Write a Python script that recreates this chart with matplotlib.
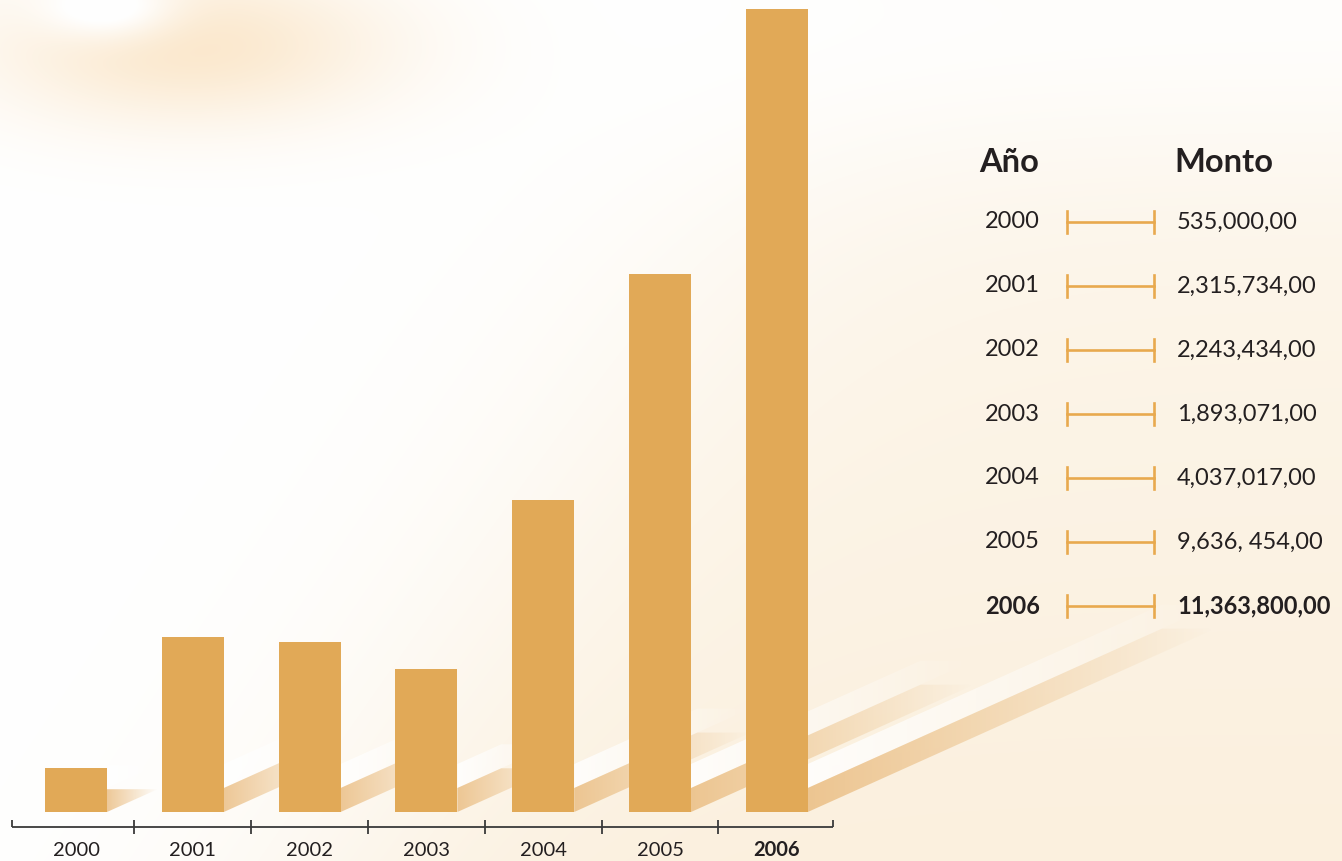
import numpy as np
import matplotlib
matplotlib.use("Agg")
import matplotlib.pyplot as plt
from matplotlib.patches import Polygon
from matplotlib.lines import Line2D

# bar heights as drawn (millions)
years = ["2000", "2001", "2002", "2003", "2004", "2005", "2006"]
heights = [0.62, 2.48, 2.40, 2.02, 4.41, 7.61, 11.36]

# table on the right
table_years = ["2000", "2001", "2002", "2003", "2004", "2005", "2006"]
table_amounts = ["535,000,00", "2,315,734,00", "2,243,434,00", "1,893,071,00",
                 "4,037,017,00", "9,636, 454,00", "11,363,800,00"]

W, H = 1342, 861
BAR = "#E1A957"
TXT = "#231F20"
FONT = "Lato"

fig = plt.figure(figsize=(W / 100, H / 100), dpi=100)

# --- soft warm background --------------------------------------------
bg = fig.add_axes([0, 0, 1, 1], zorder=0)
yy, xx = np.mgrid[0:H, 0:W].astype(float)
img = np.ones((H, W, 3))
glow = np.exp(-(((xx - 190) / 200) ** 2 + ((yy - 45) / 80) ** 2))
core = np.exp(-(((xx - 110) / 65) ** 2 + ((yy - 10) / 30) ** 2))
glow = np.clip(glow - 0.85 * core, 0, 1) * 0.9
warm = 1 / (1 + np.exp(-(xx - 340 - 0.6 * (850 - yy)) / 110))
warm *= 0.55 + 0.45 * (yy / H)
warm *= 1 - 0.8 * np.exp(-((yy - 20) / 150) ** 2)
for c, (g, w) in enumerate(zip((251, 232, 205), (251, 240, 222))):
    img[..., c] -= glow * (1 - g / 255) * 1.1
    img[..., c] -= warm * (1 - w / 255)
bg.imshow(np.clip(img, 0, 1), extent=(0, W, H, 0), aspect="auto")
bg.axis("off")

# --- bar chart --------------------------------------------------------
PX_X = 116.8   # px per category
PX_Y = 70.7    # px per million
X0 = 76        # px centre of first bar
ax = fig.add_axes([0, 0, 1, 1], zorder=1)
ax.patch.set_alpha(0)
ax.set_xlim(-X0 / PX_X, (W - X0) / PX_X)
ax.set_ylim(-(H - 812) / PX_Y, 812 / PX_Y)
ax.axis("off")

x = np.arange(len(years))
bw = 62 / PX_X

# diagonal shadows cast to the right of each bar
slope = 0.45 * PX_X / PX_Y
thick = 24 / PX_Y
for xi, h in zip(x, heights):
    x0 = xi + bw / 2
    L = (0.47 * h * PX_Y + 30) / PX_X
    top = slope * L
    for off, col, a0 in [(thick, (1, 1, 1), 0.85), (0, (0.91, 0.72, 0.47), 0.75)]:
        pts = [(x0, off), (x0 + L, top + off), (x0 + L - thick / slope, top + off), (x0, thick + off)]
        poly = Polygon(pts, closed=True, facecolor="none", edgecolor="none")
        ax.add_patch(poly)
        grad = np.zeros((1, 80, 4))
        grad[..., :3] = col
        grad[..., 3] = np.linspace(a0, 0, 80)
        im = ax.imshow(grad, extent=(x0, x0 + L, off, top + thick + off),
                       aspect="auto", zorder=2, interpolation="bilinear")
        im.set_clip_path(poly)

ax.bar(x, heights, width=bw, color=BAR, zorder=3)

# baseline axis with separator ticks
y_ax = -15 / PX_Y
t = 7 / PX_Y
left, right = (12 - X0) / PX_X, (833 - X0) / PX_X
ax.hlines(y_ax, left, right, color="#3a3a3a", lw=1.3, zorder=3)
ax.vlines(x[:-1] + 0.5, y_ax - t, y_ax + t, color="#3a3a3a", lw=1.3, zorder=3)
ax.vlines([left, right], y_ax, y_ax + t, color="#3a3a3a", lw=1.3, zorder=3)
for xi, yr in zip(x, years):
    ax.text(xi, -38 / PX_Y, yr, ha="center", va="center", fontsize=14.5,
            family=FONT, color=TXT, fontweight="bold" if yr == "2006" else "normal")

# --- table ------------------------------------------------------------
def fx(px):
    return px / W

def fy(py):
    return 1 - py / H

fig.text(fx(979), fy(163), "Año", fontsize=23.5, fontweight="bold", family=FONT,
         color=TXT, va="center", ha="left")
fig.text(fx(1174), fy(163), "Monto", fontsize=23.5, fontweight="bold", family=FONT,
         color=TXT, va="center", ha="left")

row_y = 222
for i, (yr, amt) in enumerate(zip(table_years, table_amounts)):
    py = row_y + i * 64
    bold = "bold" if yr == "2006" else "normal"
    fig.text(fx(985), fy(py), yr, fontsize=17, fontweight=bold, family=FONT,
             color=TXT, va="center", ha="left")
    fig.text(fx(1177), fy(py), amt, fontsize=17, fontweight=bold, family=FONT,
             color=TXT, va="center", ha="left")
    for seg in [([1067, 1154], [py, py]), ([1067, 1067], [py - 11, py + 11]),
                ([1154, 1154], [py - 11, py + 11])]:
        fig.add_artist(Line2D([fx(v) for v in seg[0]], [fy(v) for v in seg[1]],
                              color="#E8A94E", lw=1.9))

fig.savefig("out.png", dpi=100)
